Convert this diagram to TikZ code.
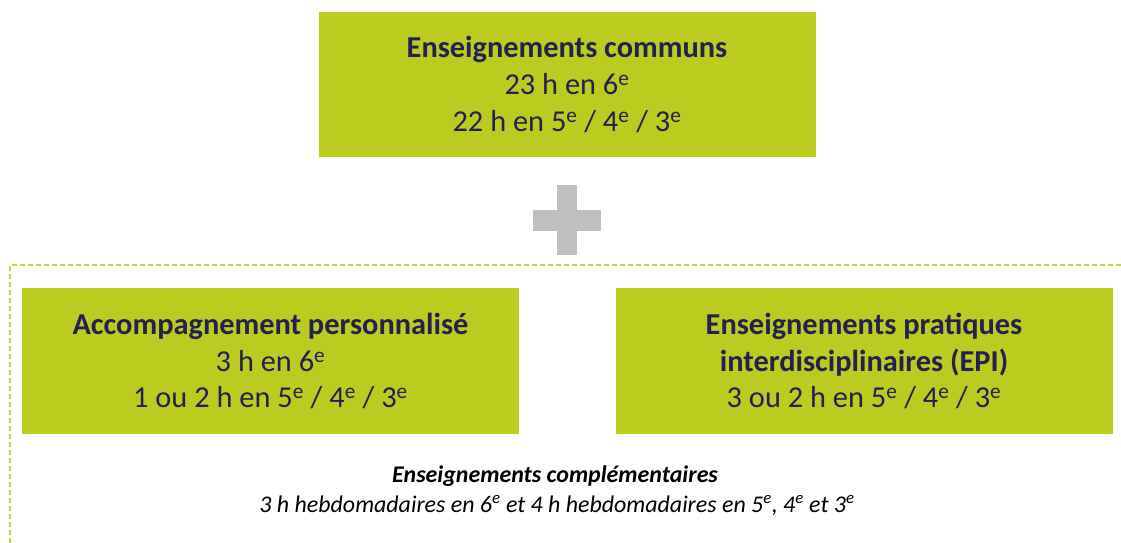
\documentclass[tikz,border=0pt]{standalone}
\usepackage{fontspec}
\setmainfont{Carlito}
\definecolor{boxgreen}{HTML}{BCCB20}
\definecolor{navy}{HTML}{23214F}
\definecolor{dashgreen}{HTML}{C5D340}
\definecolor{plusgray}{HTML}{BFBFBF}
\tikzset{
  greenbox/.style={fill=boxgreen, draw=none, minimum width=497bp, minimum height=145bp,
    align=center, text=navy, inner sep=0pt, font=\fontsize{30.5}{37}\selectfont},
  note/.style={align=center, inner sep=0pt, text=black}
}
\begin{document}
\begin{tikzpicture}[x=1bp,y=-1bp]
\useasboundingbox (0,0) rectangle (1121,543);
\node[greenbox] (common) at (567,84.5) {\textbf{Enseignements communs}\\23 h en 6\textsuperscript{e}\\22 h en 5\textsuperscript{e} / 4\textsuperscript{e} / 3\textsuperscript{e}};
% plus sign
\fill[plusgray] (533,210) rectangle (601,231);
\fill[plusgray] (557,185) rectangle (577,255);
% dashed frame
\draw[dashgreen, line width=1.3bp, dash pattern=on 5bp off 3bp] (1121,265) -- (10,265) -- (10,543);
\node[greenbox] (ap) at (270.5,361) {\textbf{Accompagnement personnalisé}\\3 h en 6\textsuperscript{e}\\1 ou 2 h en 5\textsuperscript{e} / 4\textsuperscript{e} / 3\textsuperscript{e}};
\node[greenbox] (epi) at (864,361) {\textbf{Enseignements pratiques}\\\textbf{interdisciplinaires (EPI)}\\3 ou 2 h en 5\textsuperscript{e} / 4\textsuperscript{e} / 3\textsuperscript{e}};
\node[note, font=\fontsize{24}{28}\selectfont\bfseries\itshape] (ctitle) at (555,476) {Enseignements complémentaires};
\node[note, font=\fontsize{24}{28}\selectfont\itshape] (ctext) at (557,505) {3 h hebdomadaires en 6\textsuperscript{e} et 4 h hebdomadaires en 5\textsuperscript{e}, 4\textsuperscript{e} et 3\textsuperscript{e}};
\end{tikzpicture}
\end{document}
